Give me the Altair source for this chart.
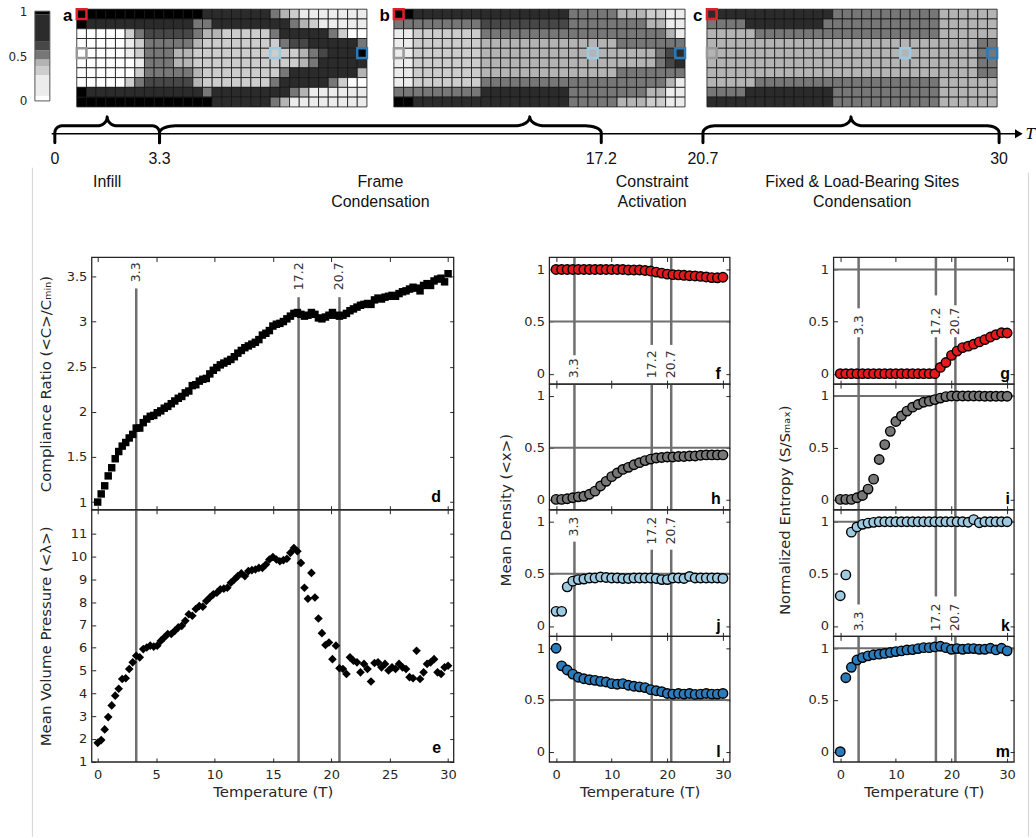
import altair as alt
import numpy as np
import pandas as pd

FONT = "DejaVu Sans"
SANS = "Liberation Sans"
TXT = "#262626"
REF = "#6f6f6f"
W, H = 1036, 838

# ------------------------------------------------------------------ data
CBAR_EDGES = [0.0, 0.056, 0.289, 0.389, 0.463, 0.563, 0.667, 0.963, 1.0]
CBAR_COLORS = ["#ffffff", "#ececec", "#cdcdcd", "#b4b4b4", "#777777", "#474747", "#2b2b2b", "#000000"]
CBAR_TICKS = [0, 0.5, 1]

# cell levels 0..9 (value = level / 9), 30 columns x 10 rows
GRID_A = [
    "99999" "99999" "99988" "88888" "54311" "11111",
    "98888" "88888" "88558" "88888" "88543" "11111",
    "00000" "35666" "66544" "33333" "58888" "85300",
    "00000" "13555" "55433" "33333" "35668" "88885",
    "00000" "13555" "44333" "33333" "33345" "68889",
    "00000" "01555" "44333" "33333" "33345" "88888",
    "00000" "03555" "55433" "33333" "35888" "88884",
    "00000" "35666" "66433" "33333" "58888" "85300",
    "98888" "88888" "88858" "88888" "88541" "11111",
    "99999" "99999" "99998" "88888" "54111" "11111",
]
GRID_B = [
    "99888" "88888" "88888" "88855" "55544" "43311",
    "55555" "55556" "66666" "66655" "55555" "54411",
    "11333" "33335" "55555" "55555" "55555" "55541",
    "11333" "33334" "44444" "44444" "44455" "55555",
    "11333" "33334" "44444" "44444" "44444" "44568",
    "11333" "33334" "44444" "44444" "44444" "44568",
    "11333" "33334" "44444" "44444" "44455" "55555",
    "11333" "33335" "55555" "55555" "55555" "55541",
    "55555" "55558" "88888" "88855" "55555" "54411",
    "99888" "88888" "88888" "88855" "55544" "43311",
]
GRID_C = [
    "88888" "88888" "88855" "55555" "55554" "44444",
    "55558" "88888" "88555" "55555" "55554" "44444",
    "44444" "55555" "55555" "55555" "55554" "44444",
    "44444" "44444" "44444" "44444" "44444" "44455",
    "44444" "44444" "44444" "44444" "44444" "44455",
    "44444" "44444" "44444" "44444" "44444" "44455",
    "44444" "44444" "44444" "44444" "44444" "44455",
    "44444" "55555" "55555" "55555" "55554" "44444",
    "55558" "88888" "88855" "55555" "55554" "44444",
    "88888" "88888" "88855" "55555" "55554" "44444",
]
GRID_LETTERS = ["a", "b", "c"]
SITE_COLS = [0, 0, 20, 29]
SITE_ROWS = [0, 4, 4, 4]
SITE_COLORS = ["#e0202a", "#999999", "#9ecae1", "#2b7bba"]

BOUNDS = [0, 3.3, 17.2, 20.7, 30]
BOUND_LABELS = ["0", "3.3", "17.2", "20.7", "30"]
BRACE_FROM = [0, 3.3, 20.7]
BRACE_TO = [3.3, 17.2, 30]
BRACE_CUSP = [1.65, 14.95, 25.35]
BRACE_R_END = [0.22, 0.5, 0.37]
BRACE_R_MID = [0.31, 0.47, 0.37]
PHASE_NAMES = ["Infill", "Frame\nCondensation", "Constraint\nActivation",
               "Fixed & Load-Bearing Sites\nCondensation"]
PHASE_T = [1.65, 10.25, 18.95, 25.7]

T_FINE = [round(0.3 * i, 1) for i in range(101)]
COMPLIANCE = [
    1.00, 1.09, 1.18, 1.29, 1.38, 1.48, 1.56, 1.62, 1.66, 1.71,
    1.75, 1.82, 1.82, 1.88, 1.92, 1.95, 1.96, 1.99, 2.01, 2.04,
    2.06, 2.09, 2.12, 2.15, 2.17, 2.21, 2.23, 2.29, 2.30, 2.34,
    2.36, 2.37, 2.42, 2.46, 2.49, 2.52, 2.54, 2.56, 2.58, 2.61,
    2.65, 2.68, 2.71, 2.73, 2.75, 2.77, 2.80, 2.85, 2.87, 2.90,
    2.95, 2.97, 2.98, 3.00, 3.03, 3.06, 3.09, 3.10, 3.08, 3.06,
    3.07, 3.10, 3.08, 3.04, 3.03, 3.05, 3.07, 3.10, 3.07, 3.06,
    3.07, 3.09, 3.12, 3.14, 3.16, 3.18, 3.19, 3.20, 3.19, 3.24,
    3.26, 3.25, 3.27, 3.28, 3.29, 3.28, 3.31, 3.33, 3.34, 3.36,
    3.38, 3.37, 3.34, 3.40, 3.42, 3.40, 3.45, 3.47, 3.48, 3.44,
    3.53,
]
PRESSURE = [
    1.83, 1.95, 2.42, 2.96, 3.47, 3.90, 4.20, 4.63, 4.66, 5.07,
    5.36, 5.65, 5.58, 5.94, 6.01, 6.09, 6.05, 6.09, 6.30, 6.45,
    6.60, 6.60, 6.74, 6.89, 6.96, 7.18, 7.47, 7.40, 7.70, 7.83,
    7.80, 8.05, 8.20, 8.34, 8.41, 8.56, 8.59, 8.63, 8.85, 8.99,
    9.14, 9.26, 9.14, 9.36, 9.40, 9.43, 9.50, 9.50, 9.65, 9.87,
    9.98, 9.87, 9.79, 9.84, 9.90, 10.16, 10.37, 10.23, 9.72, 8.63,
    8.15, 9.28, 8.20, 7.28, 6.64, 6.12, 6.23, 5.50, 6.09, 5.10,
    5.07, 4.85, 5.58, 5.43, 5.36, 4.92, 5.29, 5.07, 4.52, 5.33,
    5.36, 5.14, 5.29, 5.00, 5.14, 5.07, 5.29, 5.14, 5.07, 4.71,
    4.66, 5.87, 4.63, 4.92, 5.29, 5.36, 5.50, 4.92, 4.85, 5.14,
    5.21,
]
T_COARSE = list(range(31))
DENS_RED = [1.00, 1.00, 1.00, 1.00, 1.00, 1.00, 1.00, 1.00, 1.00, 1.00,
            1.00, 1.00, 1.00, 0.995, 0.995, 0.995, 0.99, 0.985, 0.975, 0.965,
            0.955, 0.95, 0.948, 0.944, 0.94, 0.937, 0.933, 0.928, 0.922, 0.92, 0.925]
DENS_GRAY = [0.0, 0.0, 0.006, 0.016, 0.025, 0.03, 0.05, 0.08, 0.13, 0.175,
             0.22, 0.255, 0.29, 0.31, 0.335, 0.355, 0.375, 0.39, 0.40, 0.405,
             0.41, 0.41, 0.415, 0.415, 0.42, 0.42, 0.427, 0.43, 0.43, 0.43, 0.43]
DENS_LIGHT = [0.14, 0.14, 0.375, 0.43, 0.445, 0.45, 0.46, 0.46, 0.47, 0.465,
              0.46, 0.46, 0.455, 0.455, 0.46, 0.46, 0.46, 0.46, 0.455, 0.445,
              0.445, 0.46, 0.46, 0.455, 0.475, 0.46, 0.46, 0.46, 0.46, 0.46, 0.456]
DENS_BLUE = [1.0, 0.83, 0.79, 0.75, 0.72, 0.705, 0.696, 0.69, 0.68, 0.674,
             0.658, 0.652, 0.658, 0.642, 0.633, 0.627, 0.62, 0.60, 0.589, 0.58,
             0.563, 0.557, 0.563, 0.557, 0.563, 0.554, 0.557, 0.563, 0.557, 0.557, 0.563]
ENT_RED = [0, 0, 0, 0, 0, 0, 0, 0, 0, 0,
           0, 0, 0, 0, 0, 0, 0, 0, 0.06, 0.107,
           0.176, 0.217, 0.25, 0.264, 0.283, 0.305, 0.327, 0.352, 0.374, 0.393, 0.39]
ENT_GRAY = [0, 0, 0, 0.016, 0.038, 0.10, 0.196, 0.386, 0.53, 0.658,
            0.753, 0.807, 0.854, 0.892, 0.918, 0.94, 0.95, 0.965, 0.98, 0.994,
            1.0, 1.0, 1.0, 1.0, 1.0, 1.0, 0.998, 0.998, 0.998, 0.998, 0.998]
ENT_LIGHT = [0.29, 0.49, 0.90, 0.95, 0.975, 0.987, 0.994, 1.0, 1.0, 1.0,
             1.0, 1.0, 1.0, 1.0, 1.0, 1.0, 1.0, 1.0, 1.0, 1.0,
             1.0, 1.0, 1.0, 0.995, 1.02, 0.99, 1.0, 1.0, 1.0, 1.0, 1.0]
ENT_BLUE = [0.0, 0.715, 0.816, 0.886, 0.91, 0.927, 0.937, 0.943, 0.95, 0.959,
            0.968, 0.975, 0.984, 0.987, 0.997, 1.006, 1.006, 1.013, 1.019, 1.006,
            0.99, 0.997, 0.99, 0.997, 0.997, 0.99, 0.99, 1.0, 0.984, 1.0, 0.975]
POINT_COLORS = ["#e31a1c", "#777777", "#9ecae1", "#2b7bba"]
TRANSITIONS = [3.3, 17.2, 20.7]
TRANSITION_LABELS = ["3.3", "17.2", "20.7"]

# ------------------------------------------------------------------ layout (page pixels)
CB_BOX = (35, 50, 10, 100)
GRID_BOXES = [(77, 368, 8, 106), (395, 687, 8, 106), (709, 1000, 8, 106)]
TIMELINE_PX = [55, 160, 603, 705, 1002]
LEFT_X = (92, 455)
MID_X = (551, 732)
RIGHT_X = (836, 1017)
ROWS2 = [(257, 510), (510, 763)]
ROWS4 = [(257, 384), (384, 510), (510, 637), (637, 763)]

layers = []


def sc(dom, rng):
    return alt.Scale(domain=dom, range=rng, nice=False, zero=False)


cell_scale = alt.Scale(type="threshold", domain=CBAR_EDGES[1:-1], range=CBAR_COLORS)

# frame lines
for xp, y0 in [(32.5, 167), (1031.5, 172)]:
    layers.append(alt.Chart(pd.DataFrame({"v": [0]})).mark_rule(color="#d4d4d4", strokeWidth=1).encode(
        x=alt.value(xp), y=alt.value(y0), y2=alt.value(H)))

# ------------------------------------------------------------------ colorbar
cb_df = pd.DataFrame({"lo": CBAR_EDGES[:-1], "hi": CBAR_EDGES[1:]})
cb_df["mid"] = (cb_df["lo"] + cb_df["hi"]) / 2
cb_ys = sc([0, 1], [CB_BOX[3], CB_BOX[2]])
cb_axis = alt.Axis(orient="left", offset=-CB_BOX[0], values=CBAR_TICKS, format=".4~g", ticks=False,
                   domain=False, grid=False, title=None, labelFont=FONT, labelFontSize=12,
                   labelColor=TXT, labelPadding=8)
layers.append(alt.Chart(cb_df).mark_rect().encode(
    x=alt.value(CB_BOX[0]), x2=alt.value(CB_BOX[1]),
    y=alt.Y("lo:Q", scale=cb_ys, axis=cb_axis), y2="hi:Q",
    color=alt.Color("mid:Q", scale=cell_scale, legend=None)))
layers.append(alt.Chart(pd.DataFrame({"lo": [0.0], "hi": [1.0]})).mark_rect(
    fillOpacity=0, stroke="#555555", strokeWidth=1).encode(
    x=alt.value(CB_BOX[0]), x2=alt.value(CB_BOX[1]),
    y=alt.Y("lo:Q", scale=cb_ys, axis=None), y2="hi:Q"))

# ------------------------------------------------------------------ grids
for rows, letter, box in zip([GRID_A, GRID_B, GRID_C], GRID_LETTERS, GRID_BOXES):
    recs = []
    for r, s in enumerate(rows):
        for c, ch in enumerate(s):
            recs.append({"c0": c, "c1": c + 1, "r0": r, "r1": r + 1, "val": int(ch) / 9})
    df = pd.DataFrame(recs)
    gx = sc([0, 30], [box[0], box[1]])
    gy = sc([0, 10], [box[2], box[3]])
    layers.append(alt.Chart(df).mark_rect(stroke="#141414", strokeWidth=0.8).encode(
        x=alt.X("c0:Q", scale=gx, axis=None), x2="c1:Q",
        y=alt.Y("r0:Q", scale=gy, axis=None), y2="r1:Q",
        color=alt.Color("val:Q", scale=cell_scale, legend=None)))
    sdf = pd.DataFrame({"c0": SITE_COLS, "c1": [c + 1 for c in SITE_COLS],
                        "r0": SITE_ROWS, "r1": [r + 1 for r in SITE_ROWS], "col": SITE_COLORS})
    layers.append(alt.Chart(sdf).mark_rect(fillOpacity=0, strokeWidth=2.5).encode(
        x=alt.X("c0:Q", scale=gx, axis=None), x2="c1:Q",
        y=alt.Y("r0:Q", scale=gy, axis=None), y2="r1:Q",
        stroke=alt.Stroke("col:N", scale=None)))
    ldf = pd.DataFrame({"c0": [-0.95], "r0": [0.65], "t": [letter]})
    layers.append(alt.Chart(ldf).mark_text(font=SANS, fontSize=17, fontWeight="bold",
                                           color="black").encode(
        x=alt.X("c0:Q", scale=gx, axis=None), y=alt.Y("r0:Q", scale=gy, axis=None), text="t:N"))

# ------------------------------------------------------------------ timeline
tx = sc(BOUNDS, TIMELINE_PX)
ty = sc([0, H], [0, H])
AXIS_Y = 133


def TX(f):
    return alt.X(f, scale=tx, axis=None)


def TY(f):
    return alt.Y(f, scale=ty, axis=None)


brace_rows = []
for k, (a, b, mid, r_end, r_mid) in enumerate(zip(BRACE_FROM, BRACE_TO, BRACE_CUSP,
                                                  BRACE_R_END, BRACE_R_MID)):
    pts = [(a, 142), (a, 132)]
    for th in np.linspace(np.pi, 1.5 * np.pi, 10):
        pts.append((a + r_end + r_end * np.cos(th), 132 + 7 * np.sin(th)))
    for th in np.linspace(0.5 * np.pi, 0, 10):
        pts.append((mid - r_mid + r_mid * np.cos(th), 116 + 9 * np.sin(th)))
    for th in np.linspace(np.pi, 0.5 * np.pi, 10):
        pts.append((mid + r_mid + r_mid * np.cos(th), 116 + 9 * np.sin(th)))
    for th in np.linspace(1.5 * np.pi, 2 * np.pi, 10):
        pts.append((b - r_end + r_end * np.cos(th), 132 + 7 * np.sin(th)))
    pts.append((b, 142))
    for o, (t, y) in enumerate(pts):
        brace_rows.append({"t": t, "y": y, "k": k, "o": o})
brace_df = pd.DataFrame(brace_rows)

layers.append(alt.Chart(pd.DataFrame({"t0": [-0.1], "t1": [30.55], "y": [AXIS_Y]})).mark_rule(
    color="black", strokeWidth=1.5).encode(x=TX("t0:Q"), x2="t1:Q", y=TY("y:Q")))
layers.append(alt.Chart(pd.DataFrame({"t": [30.62], "y": [AXIS_Y]})).mark_point(
    shape="triangle-right", filled=True, size=80, color="black", opacity=1).encode(
    x=TX("t:Q"), y=TY("y:Q")))
layers.append(alt.Chart(pd.DataFrame({"t": [30.98], "y": [AXIS_Y], "s": ["T"]})).mark_text(
    font="Liberation Serif", fontStyle="italic", fontSize=17, color="black").encode(
    x=TX("t:Q"), y=TY("y:Q"), text="s:N"))
layers.append(alt.Chart(brace_df).mark_line(color="black", strokeWidth=3, strokeCap="round",
                                            strokeJoin="round").encode(
    x=TX("t:Q"), y=TY("y:Q"), detail="k:N", order="o:Q"))
layers.append(alt.Chart(pd.DataFrame({"t": BOUNDS, "y": [158] * 5, "s": BOUND_LABELS})).mark_text(
    font=SANS, fontSize=16, color="#111111", baseline="middle").encode(
    x=TX("t:Q"), y=TY("y:Q"), text="s:N"))
layers.append(alt.Chart(pd.DataFrame({"t": PHASE_T, "y": [173] * 4, "s": PHASE_NAMES})).mark_text(
    font=SANS, fontSize=16, color="#111111", baseline="top", lineBreak="\n", lineHeight=20).encode(
    x=TX("t:Q"), y=TY("y:Q"), text="s:N"))

# ------------------------------------------------------------------ panels
TICK_AX = dict(grid=False, domain=False, ticks=True, tickSize=4, tickColor=TXT, tickWidth=1,
               labelFont=FONT, labelFontSize=13, labelColor=TXT, labelFlush=False,
               titleFont=FONT, titleFontSize=15, titleColor=TXT, titleFontWeight="normal")


def panel(tvals, vals, xbox, ybox, xdom, ydom, xticks, yticks, show_x, mark_kw, segs,
          letter, letter_pos, ytitle=None, title_x=None, title_y=None, labels=None,
          label_align="left", hline=None):
    x0, x1 = xbox
    y0, y1 = ybox
    xs = sc(xdom, [x0, x1])
    ys = sc(ydom, [y1, y0])
    ab = dict(TICK_AX, orient="bottom", offset=-(H - y1) - 4, values=xticks, format=".4~g",
              labels=show_x, labelPadding=7, titlePadding=3)
    ab["title"] = "Temperature (T)" if show_x else None
    al = dict(TICK_AX, orient="left", offset=-x0 - 4, values=yticks, format=".4~g", labelPadding=5)
    if ytitle:
        al.update(title=ytitle, titleX=title_x, titleBaseline="middle")
        if title_y is not None:
            al["titleY"] = title_y
    else:
        al["title"] = None
    at = dict(TICK_AX, orient="top", offset=-y0 - 4, values=xticks, labels=False, title=None)
    ar = dict(TICK_AX, orient="right", offset=-(W - x1) - 4, values=yticks, labels=False, title=None)

    out = []
    df = pd.DataFrame({"T": tvals, "v": vals})
    sdf = pd.DataFrame(segs, columns=["T", "y0", "y1"])
    out.append(alt.Chart(sdf).mark_rule(color=REF, strokeWidth=2.5).encode(
        x=alt.X("T:Q", scale=xs, axis=None), y=alt.Y("y0:Q", scale=ys, axis=None), y2="y1:Q"))
    if hline is not None:
        hdf = pd.DataFrame({"x0": [xdom[0]], "x1": [xdom[1]], "h": [hline]})
        out.append(alt.Chart(hdf).mark_rule(color=REF, strokeWidth=2).encode(
            x=alt.X("x0:Q", scale=xs, axis=None), x2="x1:Q",
            y=alt.Y("h:Q", scale=ys, axis=None)))
    out.append(alt.Chart(df).mark_point(opacity=1, **mark_kw).encode(
        x=alt.X("T:Q", scale=xs, axis=alt.Axis(**ab)),
        y=alt.Y("v:Q", scale=ys, axis=alt.Axis(**al))))
    out.append(alt.Chart(df).mark_point(opacity=0).encode(
        x=alt.X("T:Q", scale=xs, axis=alt.Axis(**at)),
        y=alt.Y("v:Q", scale=ys, axis=alt.Axis(**ar))))
    bdf = pd.DataFrame({"x0": [xdom[0]], "x1": [xdom[1]], "y0": [ydom[0]], "y1": [ydom[1]]})
    out.append(alt.Chart(bdf).mark_rect(fillOpacity=0, stroke=TXT, strokeWidth=1.3).encode(
        x=alt.X("x0:Q", scale=xs, axis=None), x2="x1:Q",
        y=alt.Y("y0:Q", scale=ys, axis=None), y2="y1:Q"))
    if labels:
        ldf = pd.DataFrame(labels, columns=["T", "v", "s"])
        out.append(alt.Chart(ldf).mark_text(angle=270, align=label_align, baseline="middle",
                                            font=FONT, fontSize=12.5, color="#333333").encode(
            x=alt.X("T:Q", scale=xs, axis=None), y=alt.Y("v:Q", scale=ys, axis=None), text="s:N"))
    lt = pd.DataFrame({"T": [letter_pos[0]], "v": [letter_pos[1]], "s": [letter]})
    out.append(alt.Chart(lt).mark_text(align="right", baseline="middle", font=SANS,
                                       fontSize=16, fontWeight="bold", color="black").encode(
        x=alt.X("T:Q", scale=xs, axis=None), y=alt.Y("v:Q", scale=ys, axis=None), text="s:N"))
    return out


LX = [-0.51, 30.48]
X5 = [0, 5, 10, 15, 20, 25, 30]
DY = [0.915, 3.71]
EY = [0.99, 12.05]
SX = [-1.2, 31.25]
SY = [-0.1, 1.115]
X10 = [0, 10, 20, 30]
Y01 = [0, 0.5, 1]


def full(ydom):
    return [(t, ydom[0], ydom[1]) for t in TRANSITIONS]


def labs(v):
    return [(t, v, s) for t, s in zip(TRANSITIONS, TRANSITION_LABELS)]


def circ(c):
    return dict(shape="circle", filled=True, fill=c, stroke="black", strokeWidth=1.4, size=90)


layers += panel(T_FINE, COMPLIANCE, LEFT_X, ROWS2[0], LX, DY, X5, [1, 1.5, 2, 2.5, 3, 3.5], False,
                dict(shape="square", filled=True, size=56, color="black"),
                [(3.3, DY[0], 3.367), (17.2, DY[0], 3.27), (20.7, DY[0], 3.27)],
                "d", (29.4, 1.06), ytitle="Compliance Ratio (<C>/Cₘᵢₙ)", title_x=-50,
                labels=labs(3.655), label_align="right")
layers += panel(T_FINE, PRESSURE, LEFT_X, ROWS2[1], LX, EY, X5, list(range(1, 12)), True,
                dict(shape="diamond", filled=True, size=75, color="black"), full(EY),
                "e", (29.4, 1.62), ytitle="Mean Volume Pressure (<λ>)", title_x=-50)

layers += panel(T_COARSE, DENS_RED, MID_X, ROWS4[0], SX, SY, X10, Y01, False, circ(POINT_COLORS[0]),
                [(3.3, 0.177, SY[1]), (17.2, 0.276, SY[1]), (20.7, 0.276, SY[1])],
                "f", (29.6, 0.0), labels=labs(-0.043), label_align="left", hline=0.5)
layers += panel(T_COARSE, DENS_GRAY, MID_X, ROWS4[1], SX, SY, X10, Y01, False, circ(POINT_COLORS[1]),
                full(SY), "h", (29.6, 0.0), hline=0.5)
layers += panel(T_COARSE, DENS_LIGHT, MID_X, ROWS4[2], SX, SY, X10, Y01, False, circ(POINT_COLORS[2]),
                [(3.3, SY[0], 0.809), (17.2, SY[0], 0.732), (20.7, SY[0], 0.732)],
                "j", (29.6, 0.0), ytitle="Mean Density (<x>)", title_x=-48, title_y=510,
                labels=labs(1.048), label_align="right", hline=0.5)
layers += panel(T_COARSE, DENS_BLUE, MID_X, ROWS4[3], SX, SY, X10, Y01, True, circ(POINT_COLORS[3]),
                full(SY), "l", (29.6, 0.0), hline=0.5)

layers += panel(T_COARSE, ENT_RED, RIGHT_X, ROWS4[0], SX, SY, X10, Y01, False, circ(POINT_COLORS[0]),
                [(3.3, SY[0], 0.35), (3.3, 0.627, SY[1]), (17.2, SY[0], 0.35), (17.2, 0.751, SY[1]),
                 (20.7, SY[0], 0.35), (20.7, 0.656, SY[1])],
                "g", (30.5, 0.0), labels=labs(0.369), label_align="left", hline=1.0)
layers += panel(T_COARSE, ENT_GRAY, RIGHT_X, ROWS4[1], SX, SY, X10, Y01, False, circ(POINT_COLORS[1]),
                full(SY), "i", (30.5, 0.0), hline=1.0)
layers += panel(T_COARSE, ENT_LIGHT, RIGHT_X, ROWS4[2], SX, SY, X10, Y01, False, circ(POINT_COLORS[2]),
                [(3.3, 0.206, SY[1]), (17.2, 0.283, SY[1]), (20.7, 0.283, SY[1])],
                "k", (30.5, 0.0), ytitle="Normalized Entropy (S/Sₘₐₓ)", title_x=-53, title_y=510,
                labels=labs(-0.052), label_align="left", hline=1.0)
layers += panel(T_COARSE, ENT_BLUE, RIGHT_X, ROWS4[3], SX, SY, X10, Y01, True, circ(POINT_COLORS[3]),
                full(SY), "m", (30.5, 0.0), hline=1.0)

chart = alt.layer(*layers).resolve_scale(x="independent", y="independent").resolve_axis(
    x="independent", y="independent").properties(width=W, height=H, padding=0).configure_view(stroke=None)

chart.save("out.html", embed_options={"renderer": "svg", "actions": False})
